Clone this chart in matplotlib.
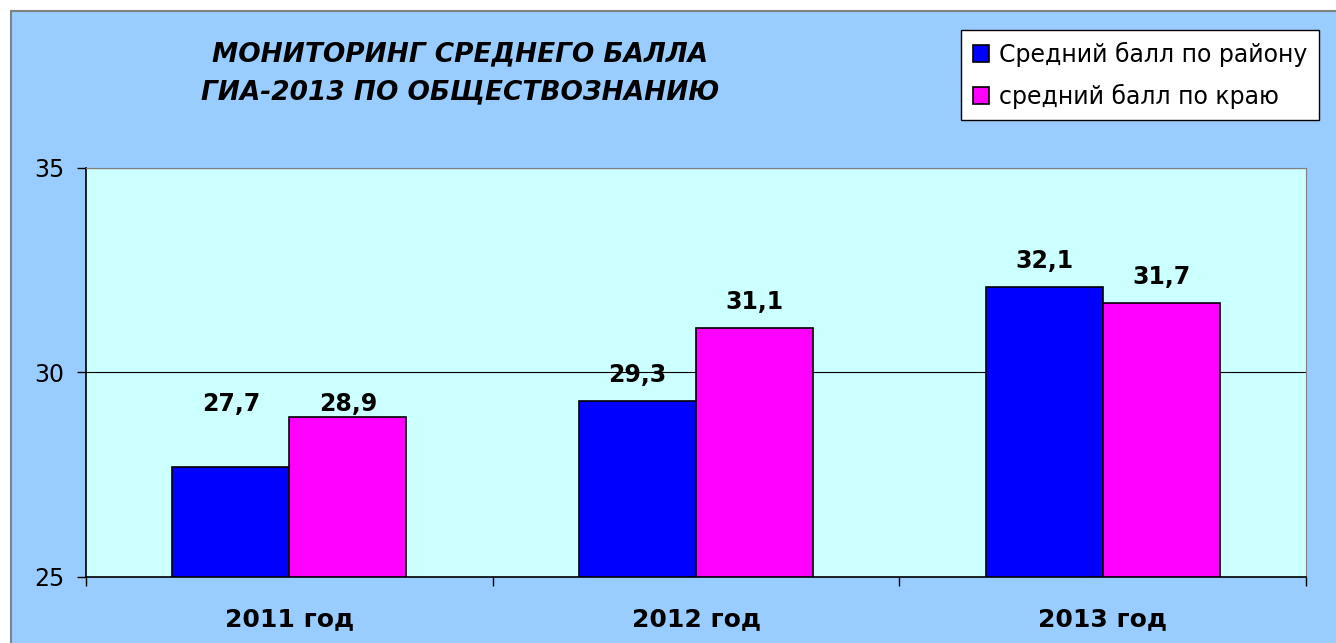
import matplotlib.pyplot as plt
from matplotlib.patches import Rectangle
import numpy as np

years = ['2011 год', '2012 год', '2013 год']
district = [27.7, 29.3, 32.1]
region = [28.9, 31.1, 31.7]
series_names = ['Средний балл по району', 'средний балл по краю']

plt.rcParams['font.family'] = ['DejaVu Sans']

fig = plt.figure(figsize=(13.36, 6.43), dpi=100, facecolor='white')
# chart background with grey frame (white strip on top/left like the original)
fig.patches.append(Rectangle((11 / 1336, -0.01), 1.0, (643 - 11) / 643 + 0.01,
                             transform=fig.transFigure, facecolor='#99CCFF',
                             edgecolor='#808080', linewidth=1.5, zorder=-10))

ax = fig.add_axes([86 / 1336, (643 - 577) / 643, 1220 / 1336, 409 / 643])
ax.set_zorder(1)
ax.set_facecolor('#CCFFFF')

x = np.arange(len(years))
w = 0.288
b1 = ax.bar(x - w / 2, np.array(district) - 25, w, bottom=25, color='#0000FF',
            edgecolor='black', linewidth=1.2, label=series_names[0], zorder=3)
b2 = ax.bar(x + w / 2, np.array(region) - 25, w, bottom=25, color='#FF00FF',
            edgecolor='black', linewidth=1.2, label=series_names[1], zorder=3)

ax.set_xlim(-0.5, 2.5)
ax.set_ylim(25, 35)
ax.set_yticks([25, 30, 35])
ax.set_yticklabels(['25', '30', '35'], fontsize=17)
ax.yaxis.grid(True, color='black', linewidth=0.8, zorder=1)
ax.set_axisbelow(True)

ax.set_xticks(x)
ax.set_xticklabels(years, fontsize=18, fontweight='bold')
ax.tick_params(axis='x', which='major', length=0, pad=22)
ax.set_xticks([-0.5, 0.5, 1.5, 2.5], minor=True)
ax.tick_params(axis='x', which='minor', length=6.5, width=1, direction='out')
ax.tick_params(axis='y', length=6.5, width=1, direction='out', pad=9)

for s in ['top', 'right']:
    ax.spines[s].set_color('#808080')
for s in ['left', 'bottom']:
    ax.spines[s].set_color('black')
    ax.spines[s].set_linewidth(1.2)

# value labels
for i in range(len(years)):
    for xpos, v in ((x[i] - w / 2, district[i]), (x[i] + w / 2, region[i])):
        y = v
        off = 26
        if i == 0:
            y = max(district[i], region[i])
            off = 13
        ax.annotate(f'{v}'.replace('.', ','), (xpos, y), xytext=(0, off),
                    textcoords='offset pixels', ha='center', va='center',
                    fontsize=17, fontweight='bold', zorder=4)

fig.text(460 / 1336, 1 - 73 / 643,
         'МОНИТОРИНГ СРЕДНЕГО БАЛЛА\nГИА-2013 ПО ОБЩЕСТВОЗНАНИЮ',
         ha='center', va='center', fontsize=19, fontweight='bold',
         fontstyle='italic', linespacing=1.6)

leg = fig.legend(handles=[b1, b2], loc='upper right',
                 bbox_to_anchor=(1319 / 1336, 1 - 30 / 643), fontsize=17,
                 frameon=True, fancybox=False, edgecolor='black',
                 framealpha=1, handlelength=0.7, handleheight=0.7,
                 handletextpad=0.4, borderpad=0.5, labelspacing=0.7,
                 borderaxespad=0)
leg.get_frame().set_linewidth(1.0)

fig.savefig('out.png', dpi=100, facecolor='white')
